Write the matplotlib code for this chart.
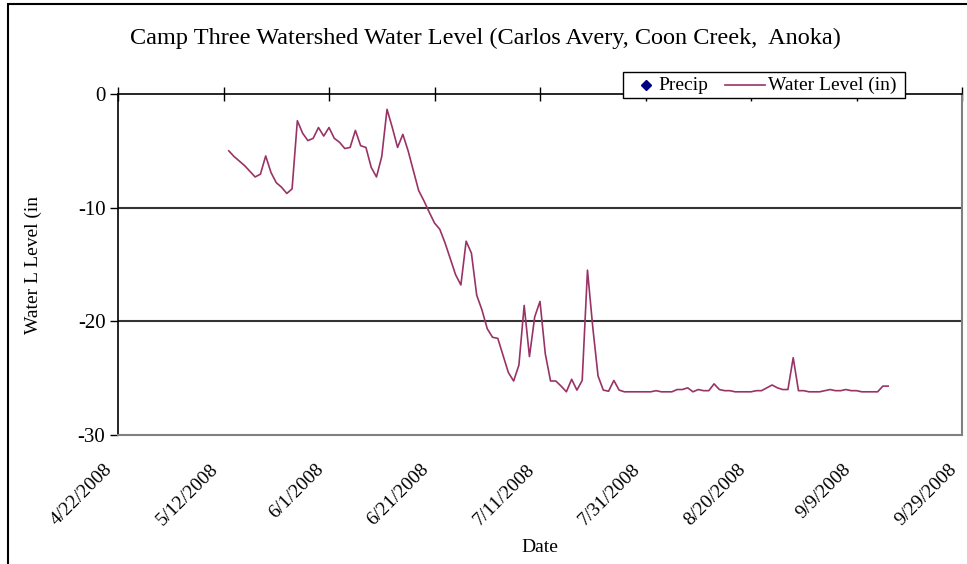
import datetime as dt
import matplotlib
matplotlib.use("Agg")
from matplotlib import pyplot as plt
import matplotlib.dates as mdates
import matplotlib.transforms as mtransforms
from matplotlib.patches import Rectangle
from matplotlib.lines import Line2D

plt.rcParams['font.family'] = ['Liberation Serif', 'DejaVu Serif']
plt.rcParams['axes.unicode_minus'] = False

# daily water level readings, starting 5/13/2008
start = dt.date(2008, 5, 13)
level = [-5.0, -5.5, -5.9, -6.3, -6.8, -7.3, -7.05, -5.45, -6.9, -7.8,
         -8.2, -8.75, -8.35, -2.35, -3.45, -4.1, -3.9, -2.95, -3.7, -2.95,
         -3.9, -4.25, -4.8, -4.7, -3.2, -4.55, -4.7, -6.45, -7.3, -5.5,
         -1.35, -2.95, -4.7, -3.55, -5.0, -6.75, -8.5, -9.4, -10.4, -11.35,
         -11.9, -13.1, -14.5, -15.9, -16.8, -12.95, -14.0, -17.7, -19.0, -20.65,
         -21.4, -21.5, -23.0, -24.5, -25.25, -23.85, -18.6, -23.1, -19.6, -18.25,
         -22.85, -25.25, -25.25, -25.7, -26.2, -25.1, -26.05, -25.2, -15.5, -20.5,
         -24.8, -26.05, -26.15, -25.2, -26.05, -26.2, -26.2, -26.2, -26.2, -26.2,
         -26.2, -26.1, -26.2, -26.2, -26.2, -26.0, -26.0, -25.85, -26.2, -26.0,
         -26.1, -26.1, -25.5, -26.0, -26.1, -26.1, -26.2, -26.2, -26.2, -26.2,
         -26.1, -26.1, -25.85, -25.6, -25.85, -26.0, -26.0, -23.2, -26.1, -26.1,
         -26.2, -26.2, -26.2, -26.1, -26.0, -26.1, -26.1, -26.0, -26.1, -26.1,
         -26.2, -26.2, -26.2, -26.2, -25.7, -25.7]
dates = [start + dt.timedelta(days=i) for i in range(len(level))]

# no precip values plotted, only shown in legend
precip_dates = []
precip = []

tick_dates = [dt.date(2008, 4, 22), dt.date(2008, 5, 12), dt.date(2008, 6, 1),
              dt.date(2008, 6, 21), dt.date(2008, 7, 11), dt.date(2008, 7, 31),
              dt.date(2008, 8, 20), dt.date(2008, 9, 9), dt.date(2008, 9, 29)]
y_ticks = [0, -10, -20, -30]

W, H = 967, 564
fig = plt.figure(figsize=(W/100, H/100), dpi=100)
ax = fig.add_axes([118/W, 1-435/H, (962-118)/W, (435-94)/H])

ax.plot(dates, level, color='#993366', lw=1.2, label='Water Level (in)')
ax.scatter(precip_dates, precip, marker='D', s=20, color='#000080', label='Precip')

ax.set_xlim(tick_dates[0], tick_dates[-1])
ax.set_ylim(-30, 0)
ax.set_xticks(tick_dates)


def fmt_date(v, p):
    d = mdates.num2date(v)
    return '%d/%d/%d' % (d.month, d.day, d.year)


ax.xaxis.set_major_formatter(plt.FuncFormatter(fmt_date))
ax.set_yticks(y_ticks)

for v in [-10, -20]:
    ax.axhline(v, color='#333333', lw=1.5, zorder=0)

for s in ['right', 'bottom']:
    ax.spines[s].set_color('#808080')
    ax.spines[s].set_linewidth(1.5)
for s in ['left', 'top']:
    ax.spines[s].set_color('black')
    ax.spines[s].set_linewidth(1.2)

ax.tick_params(axis='x', top=True, bottom=False, labeltop=False, labelbottom=True,
               direction='inout', length=10, width=1, pad=8, labelsize=14)
ax.tick_params(axis='y', direction='out', length=6, width=1, labelsize=15, pad=3)
shift = mtransforms.ScaledTranslation(-0.14, -0.08, fig.dpi_scale_trans)
for lab in ax.get_xticklabels():
    lab.set_rotation(45)
    lab.set_ha('right')
    lab.set_rotation_mode('anchor')
    lab.set_transform(lab.get_transform() + shift)

ax.set_xlabel('Date', fontsize=14, labelpad=7)
ax.set_ylabel('Water L Level (in', fontsize=14, labelpad=26)

fig.text(0.502, 1-38/H, 'Camp Three Watershed Water Level (Carlos Avery, Coon Creek,  Anoka)',
         ha='center', va='center', fontsize=17.5)

# legend box drawn by hand so the diamond sits close to its text
fig.patches.append(Rectangle((623/W, 1-98/H), (905-623)/W, 26/H, transform=fig.transFigure,
                             fc='white', ec='black', lw=1, zorder=5))
fig.add_artist(Line2D([646/W], [1-85/H], marker='D', ls='none', color='#000080',
                      markersize=5, transform=fig.transFigure, zorder=6))
fig.text(658/W, 1-85/H, 'Precip', ha='left', va='center', fontsize=14, zorder=6)
fig.add_artist(Line2D([725/W, 765/W], [1-85/H, 1-85/H], color='#993366', lw=1.2,
                      transform=fig.transFigure, zorder=6))
fig.text(768/W, 1-85/H, 'Water Level (in)', ha='left', va='center', fontsize=14, zorder=6)

fig.patches.append(Rectangle((8/W, -0.1), 1.2, 1.1 - 4/H, transform=fig.transFigure,
                             fill=False, ec='black', lw=1.5))

fig.savefig('out.png', dpi=100)
